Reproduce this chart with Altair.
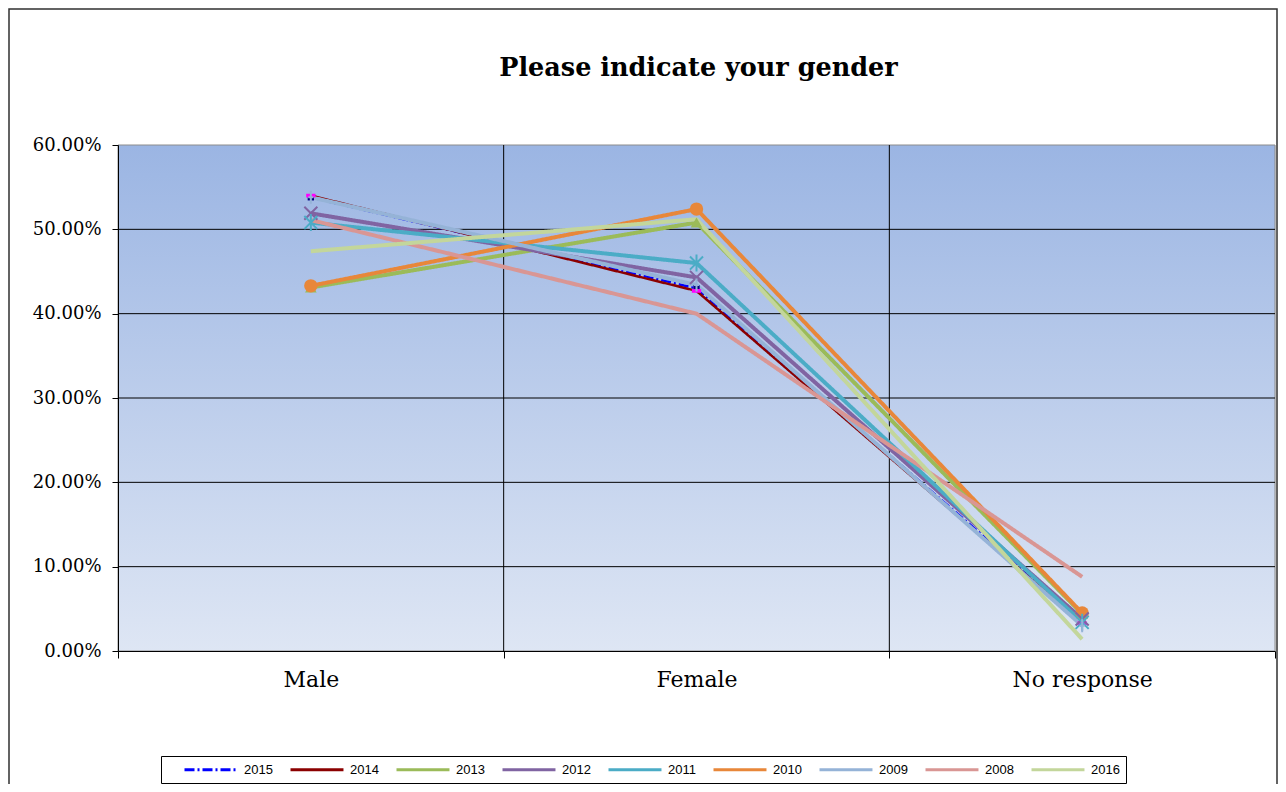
import altair as alt
import pandas as pd

title_text = "Please indicate your gender"
categories = ["Male", "Female", "No response"]
years = ["2015", "2014", "2013", "2012", "2011", "2010", "2009", "2008", "2016"]
y_ticks = [0, 0.1, 0.2, 0.3, 0.4, 0.5, 0.6]

v2015 = [0.538, 0.430, 0.035]
v2014 = [0.540, 0.427, 0.033]
v2013 = [0.431, 0.508, 0.044]
v2012 = [0.519, 0.443, 0.038]
v2011 = [0.508, 0.460, 0.034]
v2010 = [0.433, 0.524, 0.045]
v2009 = [0.538, 0.434, 0.030]
v2008 = [0.511, 0.400, 0.088]
v2016 = [0.474, 0.512, 0.014]

series = [v2015, v2014, v2013, v2012, v2011, v2010, v2009, v2008, v2016]

rows = []
for yr, vals in zip(years, series):
    for cat, v in zip(categories, vals):
        rows.append({"year": yr, "category": cat, "value": v})
df = pd.DataFrame(rows)

line_colors = ["#0000FF", "#8B0000", "#9BBB59", "#8064A2", "#4BACC6",
               "#E8873A", "#95B3D7", "#D99694", "#C3D69B"]
dashes = [[10, 3, 2, 3], [1, 0], [1, 0], [1, 0], [1, 0], [1, 0], [1, 0], [1, 0], [1, 0]]
thin_years = ["2015", "2014"]
thick_years = ["2013", "2012", "2011", "2010", "2009", "2008", "2016"]

filled_years = ["2015", "2014", "2013", "2010"]
filled_colors = ["#000080", "#FF00FF", "#9BBB59", "#E8873A"]
filled_shapes = ["square", "M-1,-0.4L1,-0.4L1,0.4L-1,0.4Z", "triangle-up", "circle"]
filled_sizes = [40, 180, 110, 230]

open_years = ["2012", "2011", "2009"]
open_colors = ["#8064A2", "#4BACC6", "#95B3D7"]
open_shapes = ["M-1,-1L1,1M-1,1L1,-1",
               "M-1,-1L1,1M-1,1L1,-1M0,-1.3L0,1.3",
               "M0,-1L0,1M-0.4,0L0.4,0"]

serif = "DejaVu Serif"
W, H = 1157, 506

x_scale = alt.Scale(type="band", domain=categories, paddingInner=0, paddingOuter=0)
y_scale = alt.Scale(domain=[0, 0.6], nice=False)

x_axis = alt.Axis(title=None, labelAngle=0, tickBand="extent", grid=False,
                  domainColor="black", tickColor="black", tickSize=7,
                  labelFont=serif, labelFontSize=22, labelColor="black",
                  labelPadding=11, zindex=1)
y_axis = alt.Axis(title=None, format=".2%", values=y_ticks, grid=False,
                  domainColor="black", tickColor="black", tickSize=6,
                  labelFont=serif, labelFontSize=18, labelColor="black",
                  labelPadding=11, zindex=1)

x_enc = alt.X("category:N", sort=categories, scale=x_scale, axis=x_axis)
y_enc = alt.Y("value:Q", scale=y_scale, axis=y_axis)

legend = alt.Legend(
    title=None, orient="none", legendX=43, legendY=611,
    direction="horizontal", columns=9,
    strokeColor="black", fillColor="white", padding=6,
    symbolType="M-1,0L7.83,0", symbolSize=144, symbolStrokeWidth=3,
    symbolOffset=16, labelFont="Liberation Sans", labelFontSize=13,
    labelColor="black", labelOffset=46, columnPadding=0,
)

color_enc = alt.Color("year:N", sort=years,
                      scale=alt.Scale(domain=years, range=line_colors),
                      legend=legend)
dash_enc = alt.StrokeDash("year:N", sort=years,
                          scale=alt.Scale(domain=years, range=dashes),
                          legend=legend)

one = pd.DataFrame({"k": [0]})

bg = alt.Chart(one).mark_rect(
    fill=alt.Gradient(gradient="linear", x1=0, y1=0, x2=0, y2=1,
                      stops=[alt.GradientStop(color="#9BB5E3", offset=0),
                             alt.GradientStop(color="#DEE6F4", offset=1)]),
    stroke="#8c8c8c", strokeWidth=1,
).encode(x=alt.value(0), x2=alt.value(W), y=alt.value(0), y2=alt.value(H))

hgrid = alt.Chart(pd.DataFrame({"value": y_ticks[1:-1]})).mark_rule(
    color="black", strokeWidth=1
).encode(y=y_enc)

vgrid = alt.Chart(pd.DataFrame({"category": categories[1:]})).mark_rule(
    color="black", strokeWidth=1
).encode(x=alt.X("category:N", sort=categories, scale=x_scale, axis=x_axis, bandPosition=0))

thin = alt.Chart(df).transform_filter(
    alt.FieldOneOfPredicate(field="year", oneOf=thin_years)
).mark_line(strokeWidth=2.5, strokeJoin="round").encode(
    x=x_enc, y=y_enc, color=color_enc, strokeDash=dash_enc,
)

thick = alt.Chart(df).transform_filter(
    alt.FieldOneOfPredicate(field="year", oneOf=thick_years)
).mark_line(strokeWidth=4, strokeJoin="round").encode(
    x=x_enc, y=y_enc, color=color_enc, strokeDash=dash_enc,
)

filled_pts = alt.Chart(df).transform_filter(
    alt.FieldOneOfPredicate(field="year", oneOf=filled_years)
).mark_point(filled=True, opacity=1, strokeWidth=0).encode(
    x=x_enc, y=y_enc,
    fill=alt.Fill("year:N", scale=alt.Scale(domain=filled_years, range=filled_colors), legend=None),
    shape=alt.Shape("year:N", scale=alt.Scale(domain=filled_years, range=filled_shapes), legend=None),
    size=alt.Size("year:N", scale=alt.Scale(domain=filled_years, range=filled_sizes), legend=None),
)

open_pts = alt.Chart(df).transform_filter(
    alt.FieldOneOfPredicate(field="year", oneOf=open_years)
).mark_point(filled=False, opacity=1, strokeWidth=2, size=170).encode(
    x=x_enc, y=y_enc,
    stroke=alt.Stroke("year:N", scale=alt.Scale(domain=open_years, range=open_colors), legend=None),
    shape=alt.Shape("year:N", scale=alt.Scale(domain=open_years, range=open_shapes), legend=None),
)

title = alt.Chart(pd.DataFrame({"t": [title_text]})).mark_text(
    font=serif, fontSize=25.5, fontWeight="bold", color="black",
    align="center", baseline="alphabetic",
).encode(text="t:N", x=alt.value(W / 2 + 2), y=alt.value(-69))

frame = alt.Chart(one).mark_rect(fillOpacity=0, stroke="#303030", strokeWidth=1.5).encode(
    x=alt.value(-109), x2=alt.value(1159), y=alt.value(-136), y2=alt.value(700)
)

chart = alt.layer(frame, bg, hgrid, vgrid, thin, thick, filled_pts, open_pts, title).resolve_scale(
    shape="independent", size="independent"
).properties(
    width=W, height=H,
    padding={"left": 110, "top": 137, "right": 3, "bottom": 133},
    autosize=alt.AutoSizeParams(type="none"),
).configure_view(
    stroke=None,
).configure(background="white")

chart.save("out.html", embed_options={"renderer": "svg", "actions": False})
